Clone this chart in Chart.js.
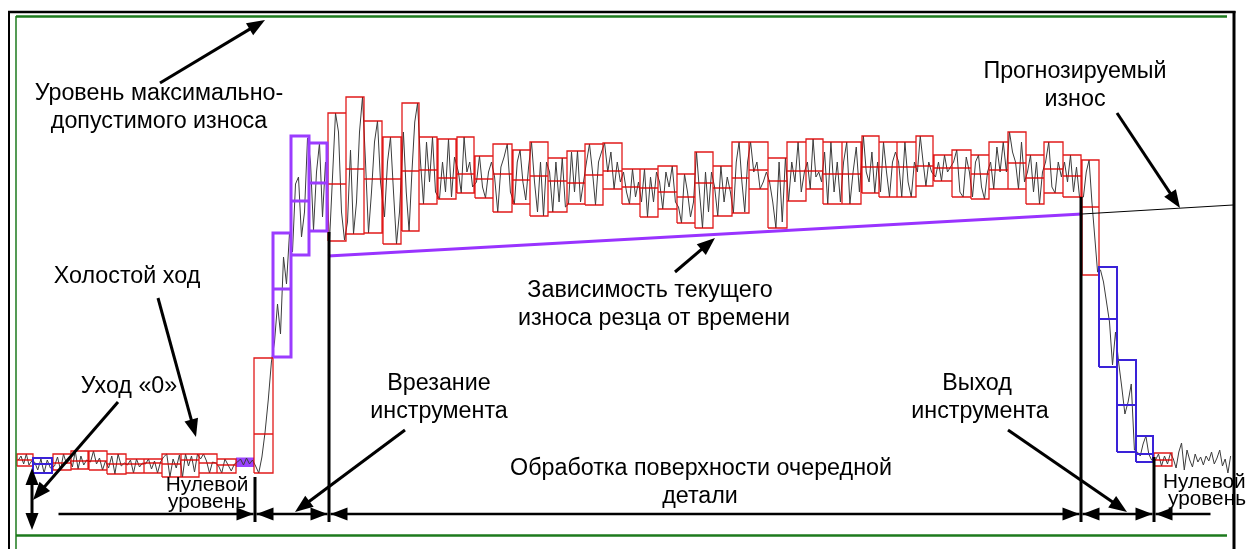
<!DOCTYPE html>
<html><head><meta charset="utf-8">
<script src="https://cdn.jsdelivr.net/npm/chart.js@4.4.1/dist/chart.umd.min.js"></script>
<style>html,body{margin:0;padding:0;background:#fff;}#wrap{width:1246px;height:549px;position:relative;}</style>
</head><body><div id="wrap"><canvas id="c"></canvas></div>
<script>
// ---- analysis windows: start time, end time, max, min, median, kind (r=red, b=blue, p=purple, f=filled)
const winStart = [17,33,53,71,89,107,126,144,162,181,199,217,236,254,273,291,309,
  328,346,364,383,402,419,438,457,475,493,513,530,548,567,585,603,622,640,658,677,695,713,732,749,768,787,806,823,842,862,879,897,916,934,952,971,989,1008,1026,1044,1063,
  1082,1099,1117,1136,1154];
const winEnd = [33,52,71,88,107,126,144,162,181,199,217,236,254,273,291,309,327,
  346,364,382,401,419,437,456,474,493,512,530,548,567,585,603,622,640,658,677,695,713,732,749,768,787,806,823,842,861,879,897,916,933,952,971,989,1008,1026,1044,1063,1081,
  1099,1117,1136,1153,1172];
const winMax = [8,4,8,11,11,8,3,3,8,8,8,3,4,104,229,326,319,
  349,365,341,325,359,325,323,325,306,318,312,320,304,311,318,319,293,293,296,288,310,296,320,320,304,320,323,320,320,326,320,320,326,307,312,307,320,330,307,320,307,
  302,195,102,26,9];
const winMin = [-4,-11,-8,-7,-8,-12,-11,-11,-15,-15,-11,-11,-5,-11,105,207,231,
  221,228,229,218,231,258,263,269,264,250,258,246,250,258,257,273,258,245,253,239,234,246,249,273,234,261,273,258,258,269,265,265,276,281,265,263,273,273,258,269,265,
  187,95,10,0,-4];
const winMid = [2,-2,-1,1,1,-2,-2,-1,-2,2,-1,-3,null,28,173,261,279,
  278,293,283,283,291,292,284,288,283,288,282,286,281,279,287,291,275,274,270,265,279,274,284,292,281,291,291,288,288,295,295,295,296,294,294,288,292,299,284,293,286,
  255,143,57,8,2];
const winKind = ['r','b','r','r','r','r','r','r','r','r','r','r','f','r','p','p','p',
  'r','r','r','r','r','r','r','r','r','r','r','r','r','r','r','r','r','r','r','r','r','r','r','r','r','r','r','r','r','r','r','r','r','r','r','r','r','r','r','r','r',
  'r','b','b','b','r'];

// ---- signal readings inside each window (evenly spaced samples)
const signalChunks = [
  [2,6,-2,8,-3,1],[0,-8,3,-11,2,-6],[-4,5,-8,8,-2,3],[-5,11,-7,6,-3,2],[0,11,-2,4,-8,1],
  [-6,6,-12,8,-4,-1],[-3,2,-11,3,-5,-1],[-2,3,-7,1,-11,0],[5,8,-15,3,-6,7],[-15,8,-4,6,-10,8],
  [3,8,1,-11,0,-1],[-4,-11,3,-3,-9,-2],[0,3,-3,4,-2,2],
  [-4,-11,5,30,62,100],[120,158,128,205,178,229],[210,278,285,225,250,324],[300,232,290,319,245,300],
  [221,285,349,330,250,222],[240,312,228,260,330,365],[300,229,270,320,341,280],[245,300,325,270,218,250],
  [330,270,231,290,340,359],[300,258,320,280,325,270],[263,300,270,323,265,305],[290,269,325,290,300,275],
  [280,306,275,264,290,300],[285,250,295,305,318,270],[258,300,312,280,262,295],[320,280,250,300,246,300],
  [290,250,300,260,304,255],[258,310,270,311,260,280],[300,318,290,257,300,310],[319,290,310,273,300,280],
  [290,270,258,293,265,280],[260,293,245,285,260,290],[280,253,290,275,296,260],[255,239,288,270,245,260],
  [310,270,234,290,250,290],[275,246,296,260,285,270],[249,300,320,280,250,300],[320,290,300,273,280,290],
  [280,260,234,300,240,304],[261,300,280,320,270,290],[300,273,323,285,290,280],[310,258,320,270,300,260],
  [300,320,258,290,315,270],[326,290,280,310,269,300],[270,320,290,265,300,310],[300,265,320,280,265,300],
  [290,326,300,276,300,290],[285,300,281,307,290,295],[300,312,270,265,305,290],[265,300,307,275,263,290],
  [300,273,315,290,320,290],[330,310,300,273,320,280],[290,307,270,300,258,290],[300,320,275,269,300,285],
  [300,280,307,270,295,265],
  [265,290,302,260,225,190],[192,180,160,140,97,130],[100,75,48,60,78,12],[10,6,18,26,8,2],[2,8,-4,6,-2,9]
];
const tailStart = 1172, tailEnd = 1232;
const tailSignal = [3,-6,10,19,-8,12,2,-5,8,0,5,-3,6,1,10,-2,4,12,-4,3,-11,6];

// ---- wear trend and forecast
const trendX = [328,1082];
const trendY = [206,248];
const forecastX = [1082,1233];
const forecastY = [248,257];

// ---- boundary markers: time, top, bottom
const markerX = [255,329,1081,1154];
const markerTop = [-15,230,265,5];
const markerBottom = [-60,-60,-60,-60];

// ---- build datasets
function chunkPoints(vals, x0, x1) {
  const n = vals.length, w = (x1 - x0) / n;
  return vals.map((v, k) => ({x: x0 + (k + 0.5) * w, y: v}));
}
const signalPts = [];
signalChunks.forEach((c, i) => signalPts.push(...chunkPoints(c, winStart[i], winEnd[i])));
signalPts.push(...chunkPoints(tailSignal, tailStart, tailEnd));

function boxPts(kind) {
  const pts = [];
  winKind.forEach((k, i) => {
    if (k !== kind) return;
    const a = winStart[i], b = winEnd[i], hi = winMax[i], lo = winMin[i];
    pts.push({x:a,y:lo},{x:a,y:hi},{x:b,y:hi},{x:b,y:lo},{x:a,y:lo},{x:a,y:null});
    if (winMid[i] !== null) pts.push({x:a,y:winMid[i]},{x:b,y:winMid[i]},{x:b,y:null});
  });
  return pts;
}
const fillIdx = winKind.indexOf('f');
const markerPts = [];
markerX.forEach((x, i) => markerPts.push({x, y: markerTop[i]}, {x, y: markerBottom[i]}, {x, y: null}));

const base = {showLine: true, pointRadius: 0, tension: 0, spanGaps: false, fill: false};
const datasets = [
  Object.assign({}, base, {label:'markers', data: markerPts, borderColor:'#000', borderWidth:3, order:0}),
  Object.assign({}, base, {label:'trend', data: trendX.map((x,i)=>({x, y:trendY[i]})), borderColor:'#9933ff', borderWidth:3, order:0}),
  Object.assign({}, base, {label:'forecast', data: forecastX.map((x,i)=>({x, y:forecastY[i]})), borderColor:'#000', borderWidth:1, order:0}),
  Object.assign({}, base, {label:'purple', data: boxPts('p'), borderColor:'#9b3cff', borderWidth:3, order:1}),
  Object.assign({}, base, {label:'blue', data: boxPts('b'), borderColor:'#3a22d8', borderWidth:2, order:2}),
  Object.assign({}, base, {label:'red', data: boxPts('r'), borderColor:'rgba(222,0,0,0.9)', borderWidth:1.3, order:3}),
  Object.assign({}, base, {label:'signal', data: signalPts, borderColor:'#3c3c3c', borderWidth:1, order:4}),
  Object.assign({}, base, {label:'fill', data: [{x:winStart[fillIdx],y:winMax[fillIdx]},{x:winEnd[fillIdx],y:winMax[fillIdx]}],
    fill:{value: winMin[fillIdx]}, backgroundColor:'#9a44ff', borderColor:'#9a44ff', borderWidth:1, order:5})
];

// ---- annotations (data coordinates)
const pointerArrows = [[160,379,265,442],[158,164,196,25],[118,60,33,-38],[405,32,295,-50],[675,190,715,224],[1008,32,1127,-50],[1117,349,1180,254]];
const dimLevel = -52;
const dimStops = [57,255,329,1081,1154,1212];
const dimHeads = [[false,true],[true,true],[true,true],[true,true],[true,false]];
const zeroShift = [32,-6,-68];
const texts = [
  ['Уровень максимально-',159,362,'c',23.3],['допустимого износа',159,334,'c',23.3],
  ['Прогнозируемый',1075,384,'c',23.3],['износ',1075,356,'c',23.3],
  ['Холостой ход',127,179,'c',23.3],['Уход «0»',129,69,'c',23.3],
  ['Зависимость текущего',650,165,'c',23.3],['износа резца от времени',654,137,'c',23.3],
  ['Врезание',439,72,'c',23.3],['инструмента',439,44,'c',23.3],
  ['Выход',977,72,'c',23.3],['инструмента',980,44,'c',23.3],
  ['Обработка поверхности очередной',701,-13,'c',23.3],['детали',700,-41,'c',23.3],
  ['Нулевой',207,-29,'c',20.8],['уровень',207,-46,'c',20.8],
  ['Нулевой',1163,-26,'l',20.8],['уровень',1168,-43,'l',20.8]
];

function head(ctx, tx, ty, fx, fy, L, W) {
  const a = Math.atan2(ty - fy, tx - fx), c = Math.cos(a), s = Math.sin(a);
  ctx.beginPath();
  ctx.moveTo(tx, ty);
  ctx.lineTo(tx - L*c + W*s, ty - L*s - W*c);
  ctx.lineTo(tx - L*c - W*s, ty - L*s + W*c);
  ctx.closePath(); ctx.fill();
}
function seg(ctx, x1, y1, x2, y2, w, col) {
  ctx.beginPath(); ctx.moveTo(x1, y1); ctx.lineTo(x2, y2);
  ctx.lineWidth = w; ctx.strokeStyle = col; ctx.stroke();
}

const annot = {
  id: 'annot',
  afterDatasetsDraw(chart) {
    const ctx = chart.ctx, X = v => chart.scales.x.getPixelForValue(v), Y = v => chart.scales.y.getPixelForValue(v);
    ctx.save();
    ctx.lineCap = 'butt';
    // frame
    seg(ctx, 9, 12, 9, 549, 2, '#000');
    seg(ctx, 8, 12, 1235.5, 12, 2.5, '#000');
    seg(ctx, 1234, 11, 1234, 549, 3, '#000');
    seg(ctx, 16, 16.5, 1227, 16.5, 2.5, '#1d7a1d');
    seg(ctx, 16, 16, 16, 549, 1.5, '#1d7a1d');
    seg(ctx, 16, 535.5, 1227, 535.5, 2.5, '#1d7a1d');
    ctx.fillStyle = '#000';
    // pointer arrows
    pointerArrows.forEach(([x1,y1,x2,y2]) => {
      const px1 = X(x1), py1 = Y(y1), px2 = X(x2), py2 = Y(y2);
      const a = Math.atan2(py2-py1, px2-px1);
      seg(ctx, px1, py1, px2 - 10*Math.cos(a), py2 - 10*Math.sin(a), 3, '#000');
      head(ctx, px2, py2, px1, py1, 18, 7);
    });
    // dimension line
    const dy = Y(dimLevel);
    for (let i = 0; i < dimStops.length - 1; i++) {
      const a = X(dimStops[i]) + 1.5, b = X(dimStops[i+1]) - 1.5;
      seg(ctx, a, dy, b, dy, 2.5, '#000');
      if (dimHeads[i][0]) head(ctx, a, dy, a + 20, dy, 17, 6.5);
      if (dimHeads[i][1]) head(ctx, b, dy, b - 20, dy, 17, 6.5);
    }
    // zero shift arrow
    const zx = X(zeroShift[0]), zt = Y(zeroShift[1]), zb = Y(zeroShift[2]);
    seg(ctx, zx, zt + 8, zx, zb - 8, 3, '#000');
    head(ctx, zx, zt, zx, zt + 20, 17, 6.5);
    head(ctx, zx, zb, zx, zb - 20, 17, 6.5);
    // texts
    ctx.textBaseline = 'alphabetic';
    texts.forEach(([t, x, y, al, fs]) => {
      ctx.font = fs + 'px "Liberation Sans", Arial, sans-serif';
      ctx.textAlign = al === 'l' ? 'left' : 'center';
      ctx.fillText(t, X(x), Y(y));
    });
    ctx.restore();
  }
};

new Chart(document.getElementById('c'), {
  type: 'scatter',
  data: {datasets},
  options: {
    responsive: true, maintainAspectRatio: false, animation: false, devicePixelRatio: 1,
    events: [],
    layout: {padding: 0},
    plugins: {legend: {display: false}, tooltip: {enabled: false}},
    scales: {
      x: {type: 'linear', min: 0, max: 1246, display: false},
      y: {type: 'linear', min: -87, max: 462, display: false}
    }
  },
  plugins: [annot]
});
</script></body></html>
